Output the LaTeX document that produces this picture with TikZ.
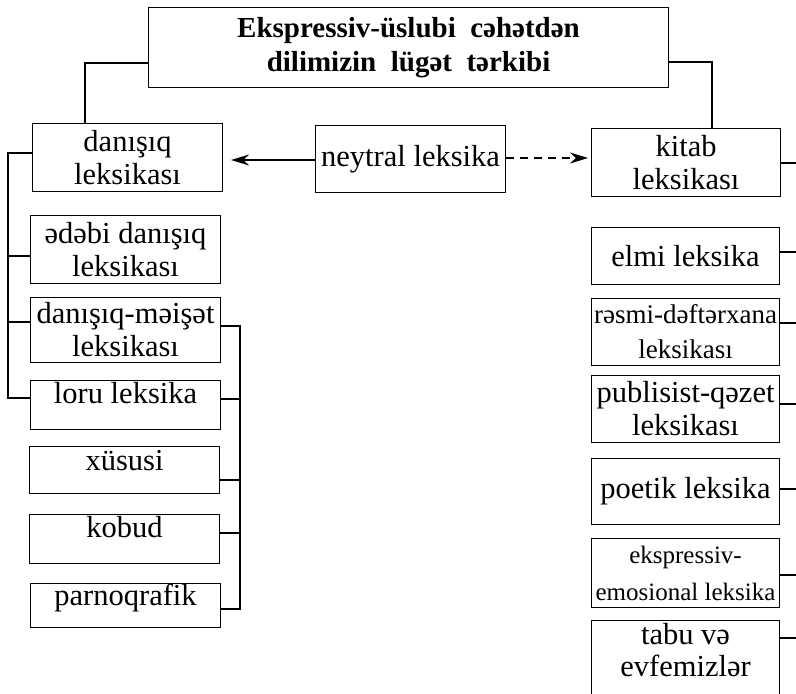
\documentclass[tikz,border=0pt]{standalone}
\usepackage{fontspec}
\setmainfont{Liberation Serif}
\usetikzlibrary{arrows.meta,calc}
\begin{document}
\begin{tikzpicture}[x=1pt,y=-1pt,
  box/.style={draw, line width=1.1pt, anchor=north west, inner sep=0pt, align=center,
    font=\fontsize{30.5}{33}\selectfont},
  wire/.style={line width=1.1pt},
  arr/.style={wire, -{Stealth[length=18pt,width=11pt]}}]
\useasboundingbox (0,0) rectangle (796,694);
\clip (0,0) rectangle (796,694);
% title
\node[box, minimum width=520pt, minimum height=80pt,
  font=\bfseries\fontsize{29}{34}\selectfont] (title) at (148,7)
  {Ekspressiv-üslubi \ cəhətdən\\dilimizin \ lügət \ tərkibi};
% top row
\node[box, minimum width=190pt, minimum height=68pt] (dan) at (32,123) {danışıq\\leksikası};
\node[box, minimum width=190pt, minimum height=67pt] (neyt) at (315,125) {neytral leksika};
\node[box, minimum width=189pt, minimum height=68pt] (kitab) at (591,128) {kitab\\leksikası};
% left column
\node[box, minimum width=190pt, minimum height=68pt] (edebi) at (30,215) {ədəbi danışıq\\leksikası};
\node[box, minimum width=190pt, minimum height=65pt] (meiset) at (30,297) {danışıq-məişət\\leksikası};
\node[box, minimum width=190pt, text height=23pt, text depth=26pt] (loru) at (30,380) {loru leksika};
\node[box, minimum width=190pt, text height=24pt, text depth=23pt] (xususi) at (29,446) {xüsusi};
\node[box, minimum width=190pt, text height=23pt, text depth=26pt] (kobud) at (29,514) {kobud};
\node[box, minimum width=190pt, text height=22pt, text depth=22pt] (parno) at (30,583) {parnoqrafik};
% right column
\node[box, minimum width=188pt, minimum height=57pt] (elmi) at (591,227) {elmi leksika};
\node[box, minimum width=188pt, minimum height=67pt, font=\fontsize{27}{35}\selectfont] (resmi) at (591,298) {rəsmi-dəftərxana\\leksikası};
\node[box, minimum width=188pt, minimum height=67pt] (publ) at (591,375) {publisist-qəzet\\leksikası};
\node[box, minimum width=188pt, minimum height=66pt] (poetik) at (591,458) {poetik leksika};
\node[box, minimum width=188pt, minimum height=69pt, font=\fontsize{25}{37}\selectfont] (ekspr) at (591,538) {ekspressiv-\\emosional leksika};
\node[box, minimum width=188pt, minimum height=100pt] (tabu) at (591,620) {};
\node[anchor=north, inner sep=0pt, align=center, font=\fontsize{30.5}{32}\selectfont] (tabutxt) at (tabu.north |- 0,623) {tabu və\\evfemizlər};
% title connectors
\draw[wire] (title.west |- 0,63) -| (dan.north -| 85,0);
\draw[wire] (title.east |- 0,62) -| (kitab.north -| 712,0);
% arrows from neytral
\draw[arr, shorten >=8pt] (neyt.west |- 0,160) -- (dan.east |- 0,160);
\draw[arr, dash pattern=on 8pt off 6pt, shorten >=3pt] (neyt.east |- 0,158) -- (kitab.west |- 0,158);
% left bracket
\draw[wire] (dan.west |- 0,153) -| (8,398) -- (loru.west |- 0,398);
\draw[wire] (8,256) -- (edebi.west |- 0,256);
\draw[wire] (8,322) -- (meiset.west |- 0,322);
% right bracket of left column
\draw[wire] (meiset.east |- 0,326) -| (240,609) -- (parno.east |- 0,609);
\draw[wire] (loru.east |- 0,399) -- (240,399);
\draw[wire] (xususi.east |- 0,480) -- (240,480);
\draw[wire] (kobud.east |- 0,533) -- (240,533);
% right stubs
\draw[wire] (kitab.east |- 0,163) -- +(25,0);
\draw[wire] (elmi.east |- 0,252) -- +(25,0);
\draw[wire] (resmi.east |- 0,323) -- +(25,0);
\draw[wire] (publ.east |- 0,404) -- +(25,0);
\draw[wire] (poetik.east |- 0,489) -- +(25,0);
\draw[wire] (ekspr.east |- 0,575) -- +(25,0);
\draw[wire] (tabu.east |- 0,638) -- +(25,0);
\end{tikzpicture}
\end{document}
